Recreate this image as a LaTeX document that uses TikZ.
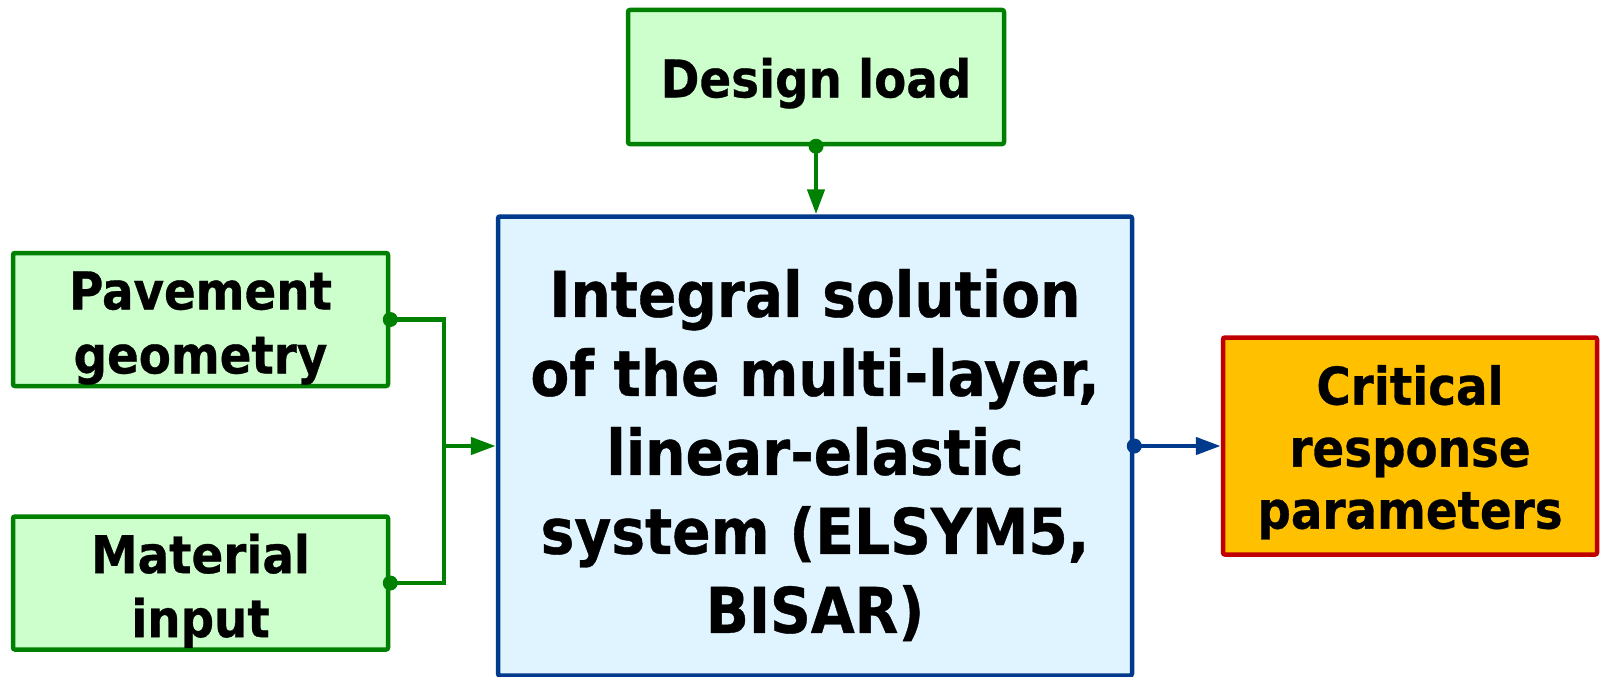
\documentclass[tikz,border=0pt]{standalone}
\usepackage{fontspec}
\newfontfamily\boxfont{DejaVu Sans Condensed Bold}[FakeBold=0.6]
\usetikzlibrary{arrows.meta}

\definecolor{inGreen}{HTML}{008000}
\definecolor{inFill}{HTML}{CCFFCC}
\definecolor{coreBlue}{HTML}{003A8C}
\definecolor{coreFill}{HTML}{E0F4FF}
\definecolor{outRed}{HTML}{C00000}
\definecolor{outFill}{HTML}{FFC000}

% extra room above the first line, pushes the text block down a little
\newcommand\topgap[1]{\rule{0pt}{#1}}

\tikzset{
  inputbox/.style={draw=inGreen, fill=inFill, line width=4.5pt, rounded corners=2pt,
    inner sep=0pt, align=center, text=black,
    font=\boxfont\fontsize{52}{64}\selectfont},
  corebox/.style={draw=coreBlue, fill=coreFill, line width=4.5pt, rounded corners=2pt,
    inner sep=0pt, align=center, text=black,
    font=\boxfont\fontsize{63}{79}\selectfont},
  outbox/.style={draw=outRed, fill=outFill, line width=4.5pt, rounded corners=2pt,
    inner sep=0pt, align=center, text=black,
    font=\boxfont\fontsize{52}{62}\selectfont},
  greenlink/.style={draw=inGreen, line width=4.5pt},
  bluelink/.style={draw=coreBlue, line width=4.5pt},
  tipg/.style={-{Triangle[length=25pt,width=17pt]}},
  portdot/.style={circle, inner sep=0pt, minimum size=15pt},
}

\begin{document}
\begin{tikzpicture}[x=1pt, y=-1pt]
  \useasboundingbox (0,0) rectangle (1601,677);

  % blocks
  \node[inputbox, minimum width=376pt, minimum height=134pt] (load) at (816,77)
    {\topgap{52pt}Design load};
  \node[inputbox, minimum width=375pt, minimum height=133pt] (geom) at (200.5,319.5)
    {\topgap{55pt}Pavement\\geometry};
  \node[inputbox, minimum width=375pt, minimum height=133pt] (mat) at (200.5,583)
    {\topgap{55pt}Material\\input};
  \node[corebox, minimum width=634pt, minimum height=459pt] (core) at (815,446)
    {\topgap{66pt}Integral solution\\of the multi-layer,\\linear-elastic\\system (ELSYM5,\\BISAR)};
  \node[outbox, minimum width=374pt, minimum height=217pt] (out) at (1410,446)
    {\topgap{52pt}Critical\\response\\parameters};

  % junction where the two inputs merge
  \coordinate (merge) at (444,446);

  % connectors
  \draw[greenlink, line join=miter] (geom.east) -| (merge) |- (mat.east);
  \draw[greenlink, tipg] (merge) -- (core.west);
  \draw[greenlink, tipg] (load.south) -- (load.south |- core.north);
  \draw[bluelink, tipg] (core.east) -- (out.west);

  % port dots
  \node[portdot, fill=inGreen] at (geom.east) {};
  \node[portdot, fill=inGreen] at (mat.east) {};
  \node[portdot, fill=inGreen] at (load.south) {};
  \node[portdot, fill=coreBlue] at (core.east) {};
\end{tikzpicture}
\end{document}
